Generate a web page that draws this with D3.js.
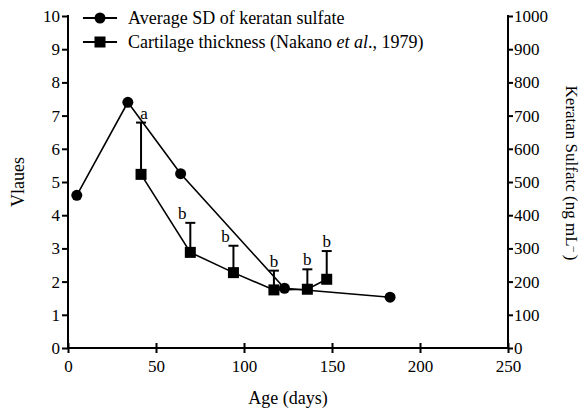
<!DOCTYPE html>
<html>
<head>
<meta charset="utf-8">
<script src="https://cdn.jsdelivr.net/npm/d3@7"></script>
<style>
  body { margin: 0; background: #fff; }
  svg text { font-family: "Liberation Serif", "DejaVu Serif", serif !important; fill: #000; }
</style>
</head>
<body>
<svg width="584" height="413"></svg>
<script>
// data
var ksAge = [5, 34, 64, 123, 183];
var ksVal = [4.6, 7.4, 5.25, 1.8, 1.53];

var ctAge = [41.5, 69.5, 94, 117, 136, 147];
var ctVal = [5.23, 2.88, 2.27, 1.75, 1.77, 2.07];
var ctErr = [6.79, 3.77, 3.08, 2.33, 2.37, 2.92];   // top of upper error bar
var ctSig = ["a", "b", "b", "b", "b", "b"];
var sigDx = [3, -8, -8, 0, 0, 0];

var xTicks = [0, 50, 100, 150, 200, 250];
var yTicks = [0, 1, 2, 3, 4, 5, 6, 7, 8, 9, 10];
var y2Ticks = [0, 100, 200, 300, 400, 500, 600, 700, 800, 900, 1000];

var svg = d3.select("svg");

var x = d3.scaleLinear().domain([0, 250]).range([68, 508]),
	y = d3.scaleLinear().domain([0, 10]).range([348, 16]),
	y2 = d3.scaleLinear().domain([0, 1000]).range([348, 16]);

// axes
var gx = svg.append("g").attr("transform", "translate(0,348)")
	.call(d3.axisBottom(x).tickValues(xTicks).tickSize(5).tickPadding(4));
gx.selectAll(".tick line").attr("y1", -5);
var gy = svg.append("g").attr("transform", "translate(68,0)")
	.call(d3.axisLeft(y).tickValues(yTicks).tickSize(6).tickPadding(2));
var gy2 = svg.append("g").attr("transform", "translate(508,0)")
	.call(d3.axisRight(y2).tickValues(y2Ticks).tickFormat(d3.format("d")).tickSize(5).tickPadding(1));

svg.selectAll("g").attr("font-family", null).attr("font-size", null);
svg.selectAll(".domain").remove();
svg.selectAll(".tick line").attr("stroke", "#000").attr("stroke-width", 2);
svg.selectAll(".tick text").style("font-size", "17px").attr("fill", "#000");
gx.selectAll(".tick text").attr("dy", "0.9em");

svg.append("line").attr("x1", 68).attr("x2", 508).attr("y1", 348).attr("y2", 348)
	.attr("stroke", "#000").attr("stroke-width", 2);
svg.append("line").attr("x1", 68).attr("x2", 68).attr("y1", 15).attr("y2", 349)
	.attr("stroke", "#000").attr("stroke-width", 2);
svg.append("line").attr("x1", 508).attr("x2", 508).attr("y1", 15).attr("y2", 349)
	.attr("stroke", "#000").attr("stroke-width", 2);

// axis titles
svg.append("text").attr("x", 288).attr("y", 404).attr("text-anchor", "middle")
	.style("font-size", "18px").text("Age (days)");
svg.append("text").attr("transform", "translate(24,182) rotate(-90)")
	.attr("text-anchor", "middle").style("font-size", "18px").text("Vlaues");
var rt = svg.append("text").attr("transform", "translate(566,173) rotate(90)")
	.attr("text-anchor", "middle").style("font-size", "17px");
rt.append("tspan").text("Keratan Sulfatc (ng mL");
rt.append("tspan").attr("dy", -5).style("font-size", "11px").text("\u2013 ");
rt.append("tspan").attr("dy", 5).text(")");

var line = d3.line().x(function(d) { return x(d[0]); }).y(function(d) { return y(d[1]); });

// cartilage thickness: error bars first
var ct = d3.zip(ctAge, ctVal, ctErr, ctSig, sigDx);
var eb = svg.append("g").attr("stroke", "#000").attr("stroke-width", 2);
eb.selectAll(".v").data(ct).enter().append("line")
	.attr("x1", function(d) { return x(d[0]); }).attr("x2", function(d) { return x(d[0]); })
	.attr("y1", function(d) { return y(d[1]); }).attr("y2", function(d) { return y(d[2]); });
eb.selectAll(".c").data(ct).enter().append("line")
	.attr("x1", function(d) { return x(d[0]) - 5; }).attr("x2", function(d) { return x(d[0]) + 5; })
	.attr("y1", function(d) { return y(d[2]); }).attr("y2", function(d) { return y(d[2]); });

svg.append("path").datum(d3.zip(ksAge, ksVal)).attr("d", line)
	.attr("fill", "none").attr("stroke", "#000").attr("stroke-width", 1.6);
svg.append("path").datum(d3.zip(ctAge, ctVal)).attr("d", line)
	.attr("fill", "none").attr("stroke", "#000").attr("stroke-width", 1.6);

svg.selectAll(".dot").data(d3.zip(ksAge, ksVal)).enter().append("circle")
	.attr("cx", function(d) { return x(d[0]); }).attr("cy", function(d) { return y(d[1]); })
	.attr("r", 5.5).attr("fill", "#000");
svg.selectAll(".sq").data(ct).enter().append("rect")
	.attr("x", function(d) { return x(d[0]) - 5.5; }).attr("y", function(d) { return y(d[1]) - 5.5; })
	.attr("width", 11).attr("height", 11).attr("fill", "#000");

svg.selectAll(".sig").data(ct).enter().append("text")
	.attr("x", function(d) { return x(d[0]) + d[4]; }).attr("y", function(d) { return y(d[2]) - 4; })
	.attr("text-anchor", "middle").style("font-size", "17px").text(function(d) { return d[3]; });

// legend
var leg = svg.append("g");
[["circle", "Average SD of keratan sulfate"], ["square", "Cartilage thickness (Nakano "]].forEach(function(e, i) {
	var cy = 18 + i * 24;
	leg.append("line").attr("x1", 83).attr("x2", 117).attr("y1", cy).attr("y2", cy)
		.attr("stroke", "#000").attr("stroke-width", 2);
	if (e[0] == "circle") leg.append("circle").attr("cx", 100).attr("cy", cy).attr("r", 5.5);
	else leg.append("rect").attr("x", 94.5).attr("y", cy - 5.5).attr("width", 11).attr("height", 11);
	var t = leg.append("text").attr("x", 128).attr("y", cy + 6).style("font-size", "18px").text(e[1]);
	if (i == 1) {
		t.append("tspan").attr("font-style", "italic").text("et al");
		t.append("tspan").text("., 1979)");
	}
});
</script>
</body>
</html>
